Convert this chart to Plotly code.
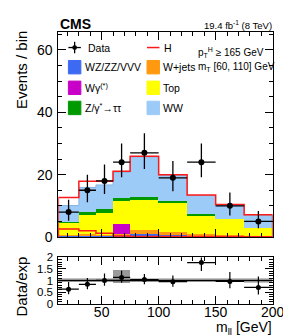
import plotly.graph_objects as go

# ---------------- data ----------------
edges = [12, 30, 45, 60, 75, 100, 125, 150, 175, 200]
data = [8, 15, 18, 24, 27, 19, 24, 10, 5]
data_err_lo = [2.77, 3.83, 4.20, 4.86, 5.17, 4.32, 4.86, 3.11, 2.16]
data_err_hi = [3.94, 4.96, 5.30, 5.97, 6.26, 5.41, 5.97, 4.26, 3.38]

vv = [0.4, 0.5, 0.5, 0.4, 0.9, 0.7, 0.5, 0.5, 0.3]
wjets = [0.3, 0.3, 0.2, 0.6, 1.4, 0.8, 0.3, 0.2, 0.1]
wgamma = [0.0, 0.0, 0.0, 3.1, 0.0, 0.0, 0.0, 0.0, 0.0]
top = [3.9, 6.4, 7.0, 7.5, 9.6, 9.6, 6.1, 5.05, 2.5]
ztt = [0.3, 0.6, 1.1, 0.9, 0.9, 0.5, 0.3, 0.05, 0.0]
ww = [5.2, 8.1, 7.9, 8.3, 12.9, 8.2, 6.1, 4.5, 4.1]
higgs = [2.6, 2.0, 1.2, 0.3, 0.2, 0.2, 0.2, 0.1, 0.1]

band_lo = [0.90, 0.90, 0.90, 0.88, 0.90, 0.91, 0.91, 0.90, 0.89]
band_hi = [1.10, 1.10, 1.10, 1.45, 1.10, 1.09, 1.09, 1.10, 1.11]

x_ticks = [50, 100, 150, 200]
y_ticks = [0, 20, 40, 60]
r_ticks = [0, 0.5, 1, 1.5, 2]
r_ticklabels = ["0", "0.5", "1", "1.5", "2"]

# ---------------- derived ----------------
n = len(data)
centers = [(edges[i] + edges[i + 1]) / 2 for i in range(n)]
widths = [edges[i + 1] - edges[i] for i in range(n)]
halfw = [w / 2 for w in widths]

W, H = 291, 336
def px(x):
    return x / W
def py(y):
    return 1 - y / H

FONT = "Liberation Sans, Arial, sans-serif"

stack = [
    ("WZ/ZZ/VVV", vv, "#3d6af2"),
    ("W+jets", wjets, "#ff9a10"),
    ("Wγ<sup>(*)</sup>", wgamma, "#c800c8"),
    ("Top", top, "#ffff00"),
    ("Z/γ<sup>*</sup>→ττ", ztt, "#009a00"),
    ("WW", ww, "#9ccbf8"),
]

fig = go.Figure()
base = [0.0] * n
for name, vals, col in stack:
    fig.add_trace(go.Bar(x=centers, y=vals, base=list(base), width=widths,
                         marker=dict(color=col, line=dict(width=0)),
                         xaxis="x", yaxis="y", showlegend=False, name=name))
    base = [b + v for b, v in zip(base, vals)]
total_bkg = base
total = [b + h for b, h in zip(total_bkg, higgs)]

def step(vals):
    xs = [edges[0]]
    ys = [0]
    for i in range(n):
        xs += [edges[i], edges[i + 1]]
        ys += [vals[i], vals[i]]
    xs.append(edges[-1]); ys.append(0)
    return xs, ys

# outline of WW top
sx, sy = step(total_bkg)
fig.add_trace(go.Scatter(x=sx, y=sy, mode="lines", line=dict(color="#8ab4e0", width=1),
                         xaxis="x", yaxis="y", showlegend=False, hoverinfo="skip"))
# stacked H
sx, sy = step(total)
fig.add_trace(go.Scatter(x=sx, y=sy, mode="lines", line=dict(color="#ff1a1a", width=1.5),
                         xaxis="x", yaxis="y", showlegend=False))
# unstacked H
sx, sy = step(higgs)
fig.add_trace(go.Scatter(x=sx, y=sy, mode="lines", line=dict(color="#ff1a1a", width=1.5),
                         xaxis="x", yaxis="y", showlegend=False))

# data
fig.add_trace(go.Scatter(x=centers, y=data, mode="markers",
                         marker=dict(color="black", size=6),
                         error_x=dict(type="data", array=halfw, color="black", thickness=1.3, width=0),
                         error_y=dict(type="data", symmetric=False, array=data_err_hi,
                                      arrayminus=data_err_lo, color="black", thickness=1.3, width=0),
                         xaxis="x", yaxis="y", showlegend=False))

# ratio band
band_cols = ["#c4c4c4"] * n
band_cols[3] = "#9a9a9a"
fig.add_trace(go.Bar(x=centers, y=[h - l for h, l in zip(band_hi, band_lo)], base=band_lo,
                     width=widths, marker=dict(color=band_cols, line=dict(width=0)),
                     xaxis="x2", yaxis="y2", showlegend=False))
ratio = [d / t for d, t in zip(data, total)]
r_lo = [e / t for e, t in zip(data_err_lo, total)]
r_hi = [e / t for e, t in zip(data_err_hi, total)]
fig.add_trace(go.Scatter(x=centers, y=ratio, mode="markers",
                         marker=dict(color="black", size=5),
                         error_x=dict(type="data", array=halfw, color="black", thickness=1.2, width=0),
                         error_y=dict(type="data", symmetric=False, array=r_hi, arrayminus=r_lo,
                                      color="black", thickness=1.2, width=0),
                         xaxis="x2", yaxis="y2", showlegend=False))

axis_common = dict(showline=True, linecolor="black", linewidth=1, mirror="ticks",
                   ticks="inside", tickcolor="black", showgrid=False, zeroline=False,
                   tickfont=dict(family=FONT, size=14, color="black"))

x0, x1 = px(52.5), px(276)
fig.update_layout(
    width=W, height=H, margin=dict(l=0, r=0, t=0, b=0),
    paper_bgcolor="white", plot_bgcolor="white", barmode="overlay", bargap=0,
    xaxis=dict(domain=[x0, x1], range=[edges[0], edges[-1]], anchor="y",
               tickvals=x_ticks, showticklabels=False, ticklen=8,
               minor=dict(dtick=10, ticklen=4, ticks="inside", tickcolor="black"),
               **axis_common),
    yaxis=dict(domain=[py(232.7), py(19)], range=[0, 65.7], anchor="x",
               tickvals=y_ticks, ticklen=8, ticklabelstandoff=2,
               minor=dict(dtick=5, ticklen=4, ticks="inside", tickcolor="black"),
               **axis_common),
    xaxis2=dict(domain=[x0, x1], range=[edges[0], edges[-1]], anchor="y2",
                tickvals=x_ticks, ticklen=8, ticklabelstandoff=-5,
                minor=dict(dtick=10, ticklen=4, ticks="inside", tickcolor="black"),
                **axis_common),
    yaxis2=dict(domain=[py(302.3), py(254)], range=[0, 2.0], anchor="x2",
                tickvals=r_ticks, ticktext=r_ticklabels, ticklen=8, ticklabelstandoff=2,
                minor=dict(dtick=0.1, ticklen=4, ticks="inside", tickcolor="black"),
                **{**axis_common, "tickfont": dict(family=FONT, size=11.5, color="black")}),
)

# line at ratio 1
fig.add_shape(type="line", xref="x2", yref="y2", x0=edges[0], x1=edges[-1], y0=1, y1=1,
              line=dict(color="black", width=1.5))

ann = []
def text(x, y, s, size, xanchor="left", yanchor="middle", angle=0, bold=False):
    if bold:
        s = "<b>" + s + "</b>"
    ann.append(dict(x=px(x), y=py(y), xref="paper", yref="paper", text=s, showarrow=False,
                    xanchor=xanchor, yanchor=yanchor, textangle=angle,
                    font=dict(family=FONT, size=size, color="black")))

text(52, 10, "CMS", 14, bold=True)
text(277, 12, "19.4 fb<sup>-1</sup> (8 TeV)", 9.5, xanchor="right")
text(14, 58, "Events / bin", 15, xanchor="center", angle=-90)
text(14, 284, "Data/exp", 15, xanchor="center", angle=-90)
text(277, 328, "m<sub>ll</sub> [GeV]", 14, xanchor="right")
text(196, 40, "p<sub>T</sub><sup>H</sup> ≥ 165 GeV", 10)
text(196, 55, "m<sub>T</sub> [60, 110] GeV", 10)

# legend
rows_y = [35, 55.5, 77, 98]
left_box, right_box = 63, 145
legend_left = [("WZ/ZZ/VVV", stack[0][2]), (stack[2][0], stack[2][2]), (stack[4][0], stack[4][2])]
legend_right = [("W+jets", stack[1][2]), ("Top", stack[3][2]), ("WW", stack[5][2])]
shapes = []
for (lab, col), yy in zip(legend_left, rows_y[1:]):
    shapes.append(dict(type="rect", xref="paper", yref="paper", x0=px(left_box), x1=px(left_box + 13),
                       y0=py(yy + 7), y1=py(yy - 7), fillcolor=col, line=dict(color=col, width=1)))
    text(left_box + 15, yy, lab, 10.5)
for (lab, col), yy in zip(legend_right, rows_y[1:]):
    shapes.append(dict(type="rect", xref="paper", yref="paper", x0=px(right_box), x1=px(right_box + 13),
                       y0=py(yy + 7), y1=py(yy - 7), fillcolor=col, line=dict(color=col, width=1)))
    text(right_box + 15, yy, lab, 10.5)
# data entry
shapes.append(dict(type="line", xref="paper", yref="paper", x0=px(left_box), x1=px(left_box + 13),
                   y0=py(rows_y[0]), y1=py(rows_y[0]), line=dict(color="black", width=1.3)))
shapes.append(dict(type="line", xref="paper", yref="paper", x0=px(left_box + 6.5), x1=px(left_box + 6.5),
                   y0=py(rows_y[0] - 6), y1=py(rows_y[0] + 6), line=dict(color="black", width=1.3)))
shapes.append(dict(type="circle", xref="paper", yref="paper", x0=px(left_box + 4), x1=px(left_box + 9),
                   y0=py(rows_y[0] + 2.5), y1=py(rows_y[0] - 2.5), fillcolor="black", line=dict(color="black", width=0)))
text(left_box + 18, rows_y[0], "Data", 10.5)
# H entry
shapes.append(dict(type="line", xref="paper", yref="paper", x0=px(right_box), x1=px(right_box + 13),
                   y0=py(rows_y[0]), y1=py(rows_y[0]), line=dict(color="#ff1a1a", width=1.5)))
text(right_box + 16, rows_y[0], "H", 10.5)

for s in shapes:
    fig.add_shape(**s)
fig.update_layout(annotations=ann)

fig.write_html("out.html")
